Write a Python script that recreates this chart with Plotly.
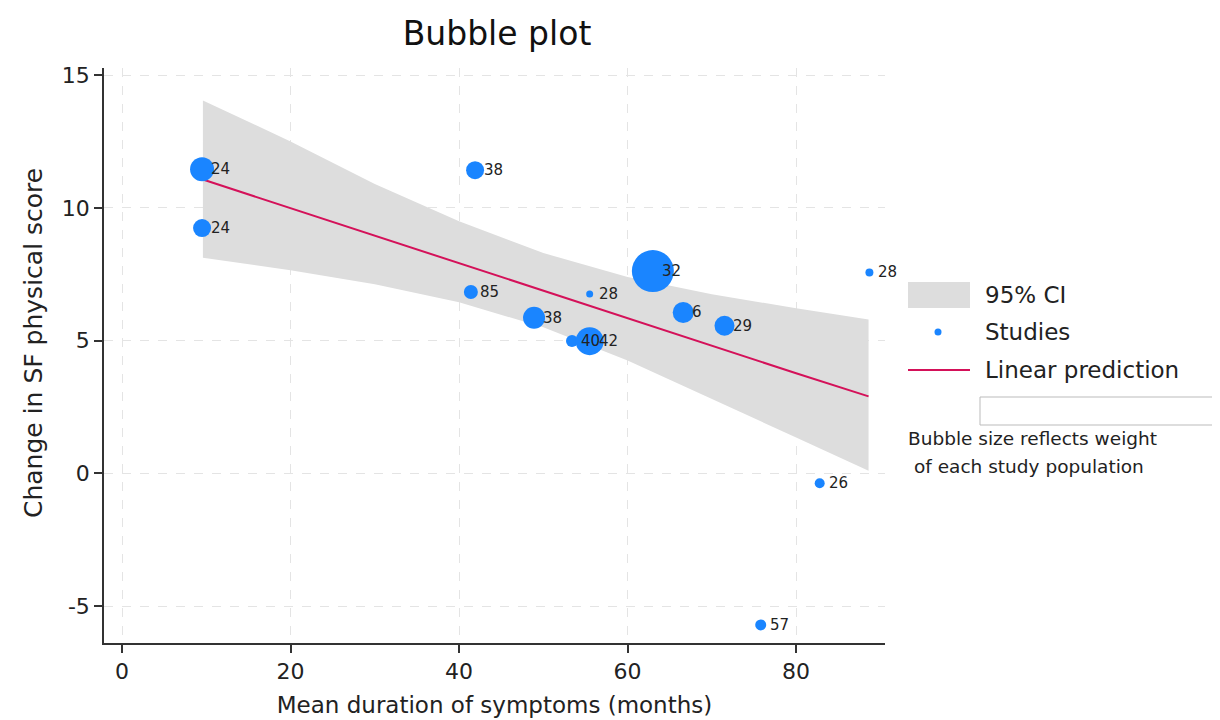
import plotly.graph_objects as go

# ---- data ----
duration = [9.5, 9.5, 41.9, 41.4, 48.9, 55.5, 53.4, 55.5, 63.0, 66.6, 71.5, 88.7, 82.8, 75.8]
change = [11.46, 9.24, 11.42, 6.83, 5.86, 6.76, 4.99, 4.98, 7.62, 6.06, 5.56, 7.57, -0.37, -5.71]
study_labels = ["24", "24", "38", "85", "38", "28", "40", "42", "32", "6", "29", "28", "26", "57"]
weights = [9.98, 5.61, 5.61, 3.40, 8.39, 0.85, 2.50, 13.59, 30.57, 7.64, 6.93, 1.11, 1.73, 2.10]

fit_x = [9.6, 20, 30, 40, 50, 60, 70, 80, 88.6]
fit_y = [11.07, 9.99, 8.95, 7.92, 6.88, 5.85, 4.81, 3.77, 2.90]
ci_upper = [14.05, 12.50, 10.90, 9.50, 8.30, 7.40, 6.75, 6.22, 5.80]
ci_lower = [8.12, 7.65, 7.12, 6.45, 5.50, 4.25, 2.80, 1.35, 0.10]

x_ticks = [0, 20, 40, 60, 80]
y_ticks = [-5, 0, 5, 10, 15]

legend_names = ["95% CI", "Studies", "Linear prediction"]
note_lines = ["Bubble size reflects weight", "of each study population"]

FONT = "DejaVu Sans"
BLUE = "#1a85ff"
RED = "#d41159"
GRAY = "#dddddd"
TXT = "#222222"

W, H = 1220, 720
OFF = 8  # page body margin: figure is drawn 8px right/down of the window corner
# plot area in window pixels
L, R, T, B = 104, 885, 68, 643


def px(xp):
    return (xp - L) / (R - L)


def py(yp):
    return (B - yp) / (B - T)


fig = go.Figure()

fig.add_trace(go.Scatter(
    x=fit_x + fit_x[::-1], y=ci_upper + ci_lower[::-1],
    fill="toself", fillcolor=GRAY, line=dict(width=0, color=GRAY),
    mode="lines", name=legend_names[0], hoverinfo="skip", showlegend=False))

fig.add_trace(go.Scatter(
    x=fit_x, y=fit_y, mode="lines", line=dict(color=RED, width=2),
    name=legend_names[2], showlegend=False))

max_d = 42
fig.add_trace(go.Scatter(
    x=duration, y=change, mode="markers",
    marker=dict(size=weights, sizemode="area", sizeref=2.0 * max(weights) / (max_d ** 2),
                color=BLUE, opacity=1, line=dict(width=0)),
    name=legend_names[1], showlegend=False))

annotations = []
for xv, yv, lab in zip(duration, change, study_labels):
    annotations.append(dict(x=xv, y=yv, xref="x", yref="y", text=lab, showarrow=False,
                            xanchor="left", yanchor="middle", xshift=7,
                            font=dict(family=FONT, size=15, color=TXT)))

# y axis title (placed to match the reference's vertical position)
annotations.append(dict(x=px(33), y=py(343), xref="paper", yref="paper",
                        text="Change in SF physical score", textangle=-90, showarrow=False,
                        xanchor="center", yanchor="middle",
                        font=dict(family=FONT, size=25, color=TXT)))

# custom legend (symbols + labels)
legend_rows_y = [295, 332, 370]
for name, ry in zip(legend_names, legend_rows_y):
    annotations.append(dict(x=px(983), y=py(ry), xref="paper", yref="paper", text=name,
                            showarrow=False, xanchor="left", yanchor="middle",
                            font=dict(family=FONT, size=23, color=TXT)))

annotations.append(dict(x=px(906), y=py(438), xref="paper", yref="paper",
                        text=note_lines[0], showarrow=False, xanchor="left", yanchor="middle",
                        font=dict(family=FONT, size=18.5, color=TXT)))
annotations.append(dict(x=px(912), y=py(466), xref="paper", yref="paper",
                        text=note_lines[1], showarrow=False, xanchor="left", yanchor="middle",
                        font=dict(family=FONT, size=18.5, color=TXT)))

shapes = [
    dict(type="rect", xref="paper", yref="paper", x0=px(908), x1=px(970),
         y0=py(308), y1=py(282), line=dict(width=0), fillcolor=GRAY),
    dict(type="circle", xref="paper", yref="paper", x0=px(934.5), x1=px(941.5),
         y0=py(335.5), y1=py(328.5), line=dict(width=0), fillcolor=BLUE),
    dict(type="line", xref="paper", yref="paper", x0=px(908), x1=px(970),
         y0=py(370), y1=py(370), line=dict(color=RED, width=2)),
    dict(type="rect", xref="paper", yref="paper", x0=px(980), x1=px(1218),
         y0=py(425), y1=py(397), line=dict(color="#bbbbbb", width=1),
         fillcolor="rgba(0,0,0,0)"),
]

axis_common = dict(
    showline=True, linecolor="#333333", linewidth=1.5,
    ticks="outside", ticklen=8, tickcolor="#333333", tickwidth=1.5,
    showgrid=True, gridcolor="#e4e4e4", griddash="dash", gridwidth=1,
    zeroline=False, tickfont=dict(family=FONT, size=22, color=TXT),
    automargin=False,
)

fig.update_layout(
    width=W, height=H,
    paper_bgcolor="white", plot_bgcolor="white",
    margin=dict(l=L - OFF, r=W - (R - OFF), t=T - OFF, b=H - (B - OFF), autoexpand=False),
    title=dict(text="Bubble plot", x=(497 - OFF) / W, xanchor="center", xref="container",
               y=1 - (33 - OFF) / H, yanchor="middle", yref="container",
               font=dict(family=FONT, size=33, color="#111111")),
    xaxis=dict(range=[-2.14, 90.55], tickvals=x_ticks, ticktext=[str(v) for v in x_ticks],
               title=dict(text="Mean duration of symptoms (months)", standoff=14,
                          font=dict(family=FONT, size=23, color=TXT)),
               **axis_common),
    yaxis=dict(range=[-6.39, 15.27], tickvals=y_ticks, ticktext=[str(v) for v in y_ticks],
               **axis_common),
    annotations=annotations,
    shapes=shapes,
    showlegend=False,
)

fig.write_html("out.html")
